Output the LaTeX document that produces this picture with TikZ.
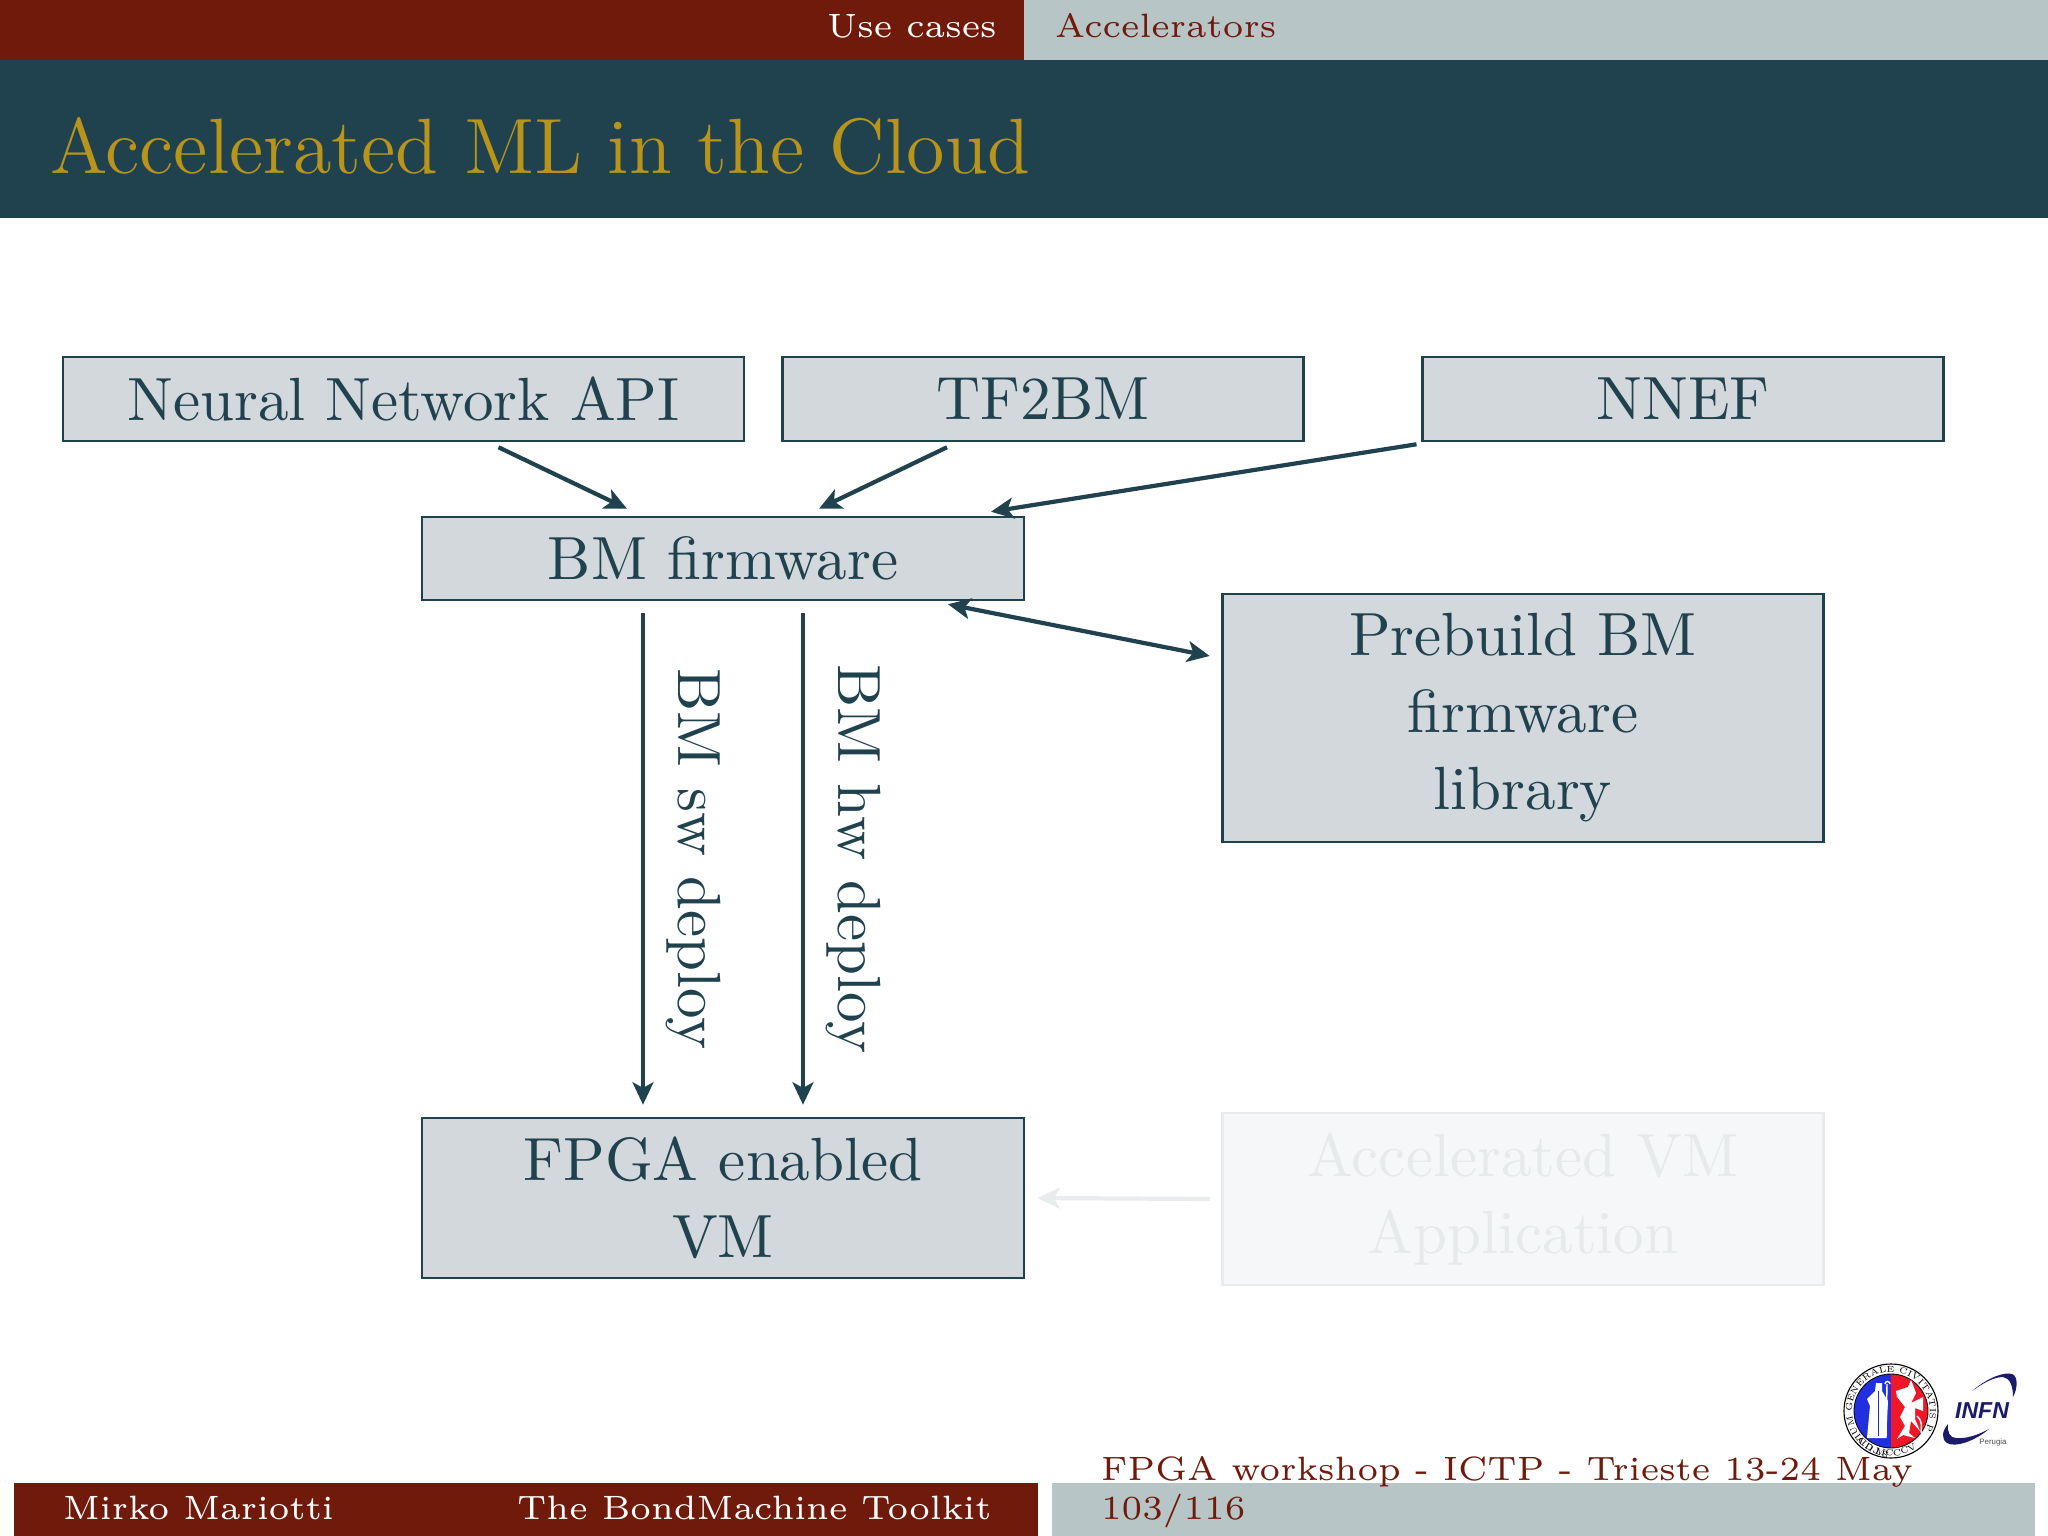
\documentclass[tikz,border=0pt]{standalone}
\usepackage{fontspec}
\newfontfamily\logofont{Liberation Sans}
\setmainfont{Latin Modern Roman}
\usetikzlibrary{arrows.meta,decorations.text}
\definecolor{teal}{HTML}{20424F}
\definecolor{barred}{HTML}{701A0B}
\definecolor{bargrey}{HTML}{B7C5C7}
\definecolor{boxfill}{HTML}{D2D8DB}
\definecolor{gold}{HTML}{B8941B}
\definecolor{navy}{HTML}{1B1B6B}
\definecolor{sealblue}{HTML}{2030E0}
\definecolor{sealred}{HTML}{F01828}
\definecolor{ghostfill}{HTML}{F6F7F8}
\definecolor{ghostline}{HTML}{E8ECED}
\definecolor{ghosttext}{HTML}{E6EAEB}
\tikzset{
  bmbox/.style={draw=teal,line width=0.45pt,fill=boxfill,text=teal,rectangle,inner sep=0pt,align=center,font=\fontsize{10.85}{13.7}\selectfont},
  ghost/.style={bmbox,draw=ghostline,fill=ghostfill,text=ghosttext},
  arr/.style={draw=teal,line width=0.75pt,-{Stealth[length=1.4mm,width=1.3mm,inset=0.35mm]}},
  duo/.style={arr,{Stealth[length=1.4mm,width=1.3mm,inset=0.35mm]}-{Stealth[length=1.4mm,width=1.3mm,inset=0.35mm]}},
  ghostarr/.style={arr,draw=ghostline},
  edge label/.style={text=teal,rotate=-90,font=\fontsize{10.85}{14}\selectfont,inner sep=0pt},
  bartext/.style={anchor=base west,inner sep=0pt,font=\fontsize{6}{8}\selectfont},
}
\begin{document}
\begin{tikzpicture}[x=0.0625mm,y=-0.0625mm]
\useasboundingbox (0,0) rectangle (2048,1536);
% bars
\fill[barred] (0,0) rectangle (1024,60);
\fill[bargrey] (1024,0) rectangle (2048,60);
\fill[teal] (0,60) rectangle (2048,218);
\fill[barred] (14,1483) rectangle (1038,1536);
\fill[bargrey] (1052,1483) rectangle (2035,1536);
\node[bartext,text=white] (uc) at (826,38) {Use cases};
\node[bartext,text=barred] (acc) at (1054,38) {Accelerators};
\node[anchor=base west,inner sep=0pt,text=gold,font=\fontsize{13.95}{17}\selectfont] (title) at (49,174) {Accelerated ML in the Cloud};
\node[bartext,text=white] (author) at (62,1519) {Mirko Mariotti};
\node[bartext,text=white] (talk) at (516,1519) {The BondMachine Toolkit};
\node[bartext,text=barred] (ws) at (1100,1480) {FPGA workshop - ICTP - Trieste 13-24 May};
\node[bartext,text=barred] (pg) at (1100,1519) {103/116};
% boxes
\node[bmbox,minimum width=681*0.0625mm,minimum height=84*0.0625mm] (neural) at (403.5,399) {Neural Network API};
\node[bmbox,minimum width=521*0.0625mm,minimum height=84*0.0625mm] (tf) at (1043,399) {TF2BM};
\node[bmbox,minimum width=521*0.0625mm,minimum height=84*0.0625mm] (nnef) at (1683,399) {NNEF};
\node[bmbox,minimum width=602*0.0625mm,minimum height=83*0.0625mm] (bm) at (723,558.5) {BM firmware};
\node[bmbox,minimum width=601*0.0625mm,minimum height=248*0.0625mm] (pre) at (1523,718) {Prebuild BM\\firmware\\library};
\node[bmbox,minimum width=602*0.0625mm,minimum height=160*0.0625mm] (fpga) at (723,1198) {FPGA enabled\\VM};
\node[ghost,minimum width=601*0.0625mm,minimum height=172*0.0625mm] (app) at (1523,1199) {Accelerated VM\\Application};
% connectors
\draw[arr] ([shift={(95,5)}]neural.south) -- ([shift={(-96,-7)}]bm.north);
\draw[arr] ([shift={(-96,5)}]tf.south) -- ([shift={(96,-7)}]bm.north);
\draw[arr] ([shift={(-266.5,2)}]nnef.south) -- ([shift={(268,-4)}]bm.north);
\draw[duo] ([shift={(225,3)}]bm.south) -- ([shift={(-11.5,-62)}]pre.west);
\draw[arr] ([shift={(-80,12)}]bm.south) -- node[edge label,pos=0.5,yshift=3.15mm] (sw) {BM sw deploy} ([shift={(-80,-12)}]fpga.north);
\draw[arr] ([shift={(80,12)}]bm.south) -- node[edge label,pos=0.5,yshift=3.15mm] (hw) {BM hw deploy} ([shift={(80,-12)}]fpga.north);
\draw[ghostarr] ([shift={(-11.5,0)}]app.west) -- ([shift={(12,0)}]fpga.east);
% Perugia seal
\begin{scope}[shift={(1891,1411)},y=0.0625mm]
  \fill[white] (0,0) circle (48);
  \draw[black,line width=0.2pt] (0,0) circle (47);
  \fill[sealblue] (0,37) arc (90:270:37) -- cycle;
  \fill[sealred] (0,-37) arc (-90:90:37) -- cycle;
  \draw[black,line width=0.15pt] (0,0) circle (37);
  % saint
  \fill[white] (-24,-27) -- (-21,5) -- (-24,12) -- (-16,20) -- (-15,28) -- (-9,28) -- (-9,20) -- (-3,10) -- (-5,-27) -- cycle;
  \draw[sealblue,line width=0.12pt] (-13,20) -- (-13,-25);
  \draw[white,line width=0.25pt] (-5,-27) -- (-4,27);
  \draw[white,line width=0.25pt] (-6,27) arc (180:0:2.5);
  % griffin
  \fill[white] (6,-28) -- (14,-15) -- (9,-6) -- (14,4) -- (6,14) -- (5,20) -- (17,24) -- (20,31) -- (25,18) -- (20,8) -- (32,14) -- (32,0) -- (24,3) -- (24,-8) -- (29,-20) -- (20,-10) -- (18,-22) -- (24,-27) -- (12,-24) -- cycle;
  \draw[white,line width=0.25pt] (26,-5) .. controls (34,-12) and (28,-22) .. (31,-24);
  \path[postaction={decorate,decoration={text along path,text align=center,
    text={|\fontsize{1.55}{2}\selectfont|STUDIUM GENERALE CIVITATIS PERUSII}}}]
    (215:39) arc (215:-35:39);
  \path[postaction={decorate,decoration={text along path,text align=center,
    text={|\fontsize{1.55}{2}\selectfont|A.D.MCCCVIII}}}]
    (232:45) arc (232:308:45);
\end{scope}
% INFN logo
\fill[navy] (1972,1391) .. controls (1990,1376) and (2005,1372) .. (2012,1374) .. controls (2018,1376) and (2018,1388) .. (2013,1397) .. controls (2013,1386) and (2010,1378) .. (2003,1377) .. controls (1993,1377) and (1982,1384) .. (1972,1391) -- cycle;
\fill[navy] (1989,1429) .. controls (1975,1441) and (1955,1448) .. (1947,1443) .. controls (1941,1439) and (1942,1431) .. (1948,1424) .. controls (1947,1432) and (1950,1438) .. (1956,1438) .. controls (1966,1439) and (1978,1435) .. (1989,1429) -- cycle;
\node[inner sep=0pt,text=navy,font=\logofont\bfseries\itshape\fontsize{4.1}{5}\selectfont] (infn) at (1982,1411) {INFN};
\node[inner sep=0pt,text=black!70,font=\logofont\fontsize{1.4}{2}\selectfont] (perugia) at (1993,1442) {Perugia};
\end{tikzpicture}
\end{document}
